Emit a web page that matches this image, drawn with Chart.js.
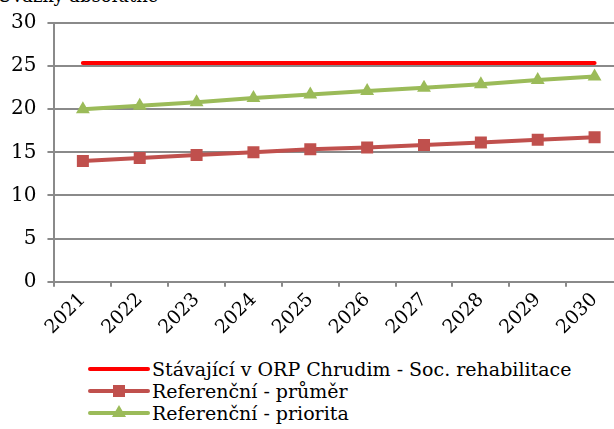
<!DOCTYPE html>
<html>
<head>
<meta charset="utf-8">
<script src="https://cdn.jsdelivr.net/npm/chart.js@4.4.1/dist/chart.umd.min.js"></script>
<style>
  html, body { margin: 0; padding: 0; background: #fff; overflow: hidden; }
  body { width: 614px; height: 429px; position: relative; }
  #wrap { position: absolute; left: 0; top: 0; width: 640px; height: 341px; }
  #title { position: absolute; left: -3px; top: -15px; font: 18px "DejaVu Serif", serif; color: #000; white-space: nowrap; }
  #legend { position: absolute; left: 88px; top: 358px; font: 19px "DejaVu Serif", serif; color: #000; }
  .item { height: 22px; line-height: 22px; display: flex; align-items: center; white-space: nowrap; }
  .sample { position: relative; width: 62px; height: 22px; margin-right: 2px; }
  .sample .ln { position: absolute; left: 0; right: 0; top: 9px; height: 4px; border-radius: 2px; }
  .sample .mk { position: absolute; left: 25px; top: 5px; width: 12px; height: 12px; }
</style>
</head>
<body>
<div id="title">Úvazky absolutně</div>
<div id="wrap"><canvas id="myChart"></canvas></div>
<div id="legend"></div>
<script>
// Kategorie (roky)
const roky = ['2021', '2022', '2023', '2024', '2025', '2026', '2027', '2028', '2029', '2030'];

// Série
const nazvy = ['Stávající v ORP Chrudim - Soc. rehabilitace', 'Referenční - průměr', 'Referenční - priorita'];
const stavajici = [25.35, 25.35, 25.35, 25.35, 25.35, 25.35, 25.35, 25.35, 25.35, 25.35];
const prumer = [14.0, 14.35, 14.7, 15.0, 15.35, 15.55, 15.85, 16.15, 16.45, 16.75];
const priorita = [20.0, 20.4, 20.8, 21.3, 21.7, 22.1, 22.5, 22.9, 23.4, 23.8];

// Osa Y
const yTicks = [0, 5, 10, 15, 20, 25, 30];

const barvy = ['#ff0000', '#c0504d', '#9bbb59'];
const znacky = [false, 'rect', 'triangle'];

const ctx = document.getElementById('myChart').getContext('2d');
const gridColor = '#8a8a8a';

const chart = new Chart(ctx, {
    type: 'line',
    data: {
        labels: roky,
        datasets: [
            {
                label: nazvy[0],
                data: stavajici,
                borderColor: barvy[0],
                backgroundColor: barvy[0],
                borderWidth: 4,
                borderCapStyle: 'round',
                pointRadius: 0
            },
            {
                label: nazvy[1],
                data: prumer,
                borderColor: barvy[1],
                backgroundColor: barvy[1],
                borderWidth: 4,
                pointStyle: 'rect',
                pointRadius: 8.5,
                pointBorderWidth: 0
            },
            {
                label: nazvy[2],
                data: priorita,
                borderColor: barvy[2],
                backgroundColor: barvy[2],
                borderWidth: 4,
                pointStyle: 'triangle',
                pointRadius: 8,
                pointBorderWidth: 0
            }
        ]
    },
    options: {
        responsive: true,
        maintainAspectRatio: false,
        animation: false,
        layout: { padding: { left: 0, right: 17, top: 18, bottom: 0 } },
        plugins: {
            legend: { display: false },
            tooltip: { enabled: false }
        },
        scales: {
            x: {
                offset: true,
                grid: {
                    offset: true,
                    drawOnChartArea: false,
                    drawTicks: true,
                    tickLength: 5,
                    color: gridColor,
                    lineWidth: 2
                },
                border: { color: gridColor, width: 2 },
                ticks: {
                    color: '#000',
                    font: { family: 'DejaVu Serif', size: 19 },
                    maxRotation: 45,
                    minRotation: 45,
                    padding: 2
                }
            },
            y: {
                min: 0,
                max: 30,
                afterBuildTicks: (axis) => { axis.ticks = yTicks.map(v => ({ value: v })); },
                grid: {
                    color: gridColor,
                    lineWidth: 2,
                    tickLength: 7
                },
                border: { color: gridColor, width: 2 },
                ticks: {
                    color: '#000',
                    font: { family: 'DejaVu Serif', size: 20 },
                    padding: 11
                }
            }
        }
    }
});

// Legenda jako HTML
const legend = document.getElementById('legend');
nazvy.forEach((nazev, i) => {
    const item = document.createElement('div');
    item.className = 'item';
    const sample = document.createElement('div');
    sample.className = 'sample';
    const ln = document.createElement('div');
    ln.className = 'ln';
    ln.style.background = barvy[i];
    sample.appendChild(ln);
    if (znacky[i] === 'rect') {
        const mk = document.createElement('div');
        mk.className = 'mk';
        mk.style.background = barvy[i];
        sample.appendChild(mk);
    } else if (znacky[i] === 'triangle') {
        const mk = document.createElement('div');
        mk.className = 'mk';
        mk.style.width = '0';
        mk.style.height = '0';
        mk.style.left = '24px';
        mk.style.top = '3px';
        mk.style.borderLeft = '7px solid transparent';
        mk.style.borderRight = '7px solid transparent';
        mk.style.borderBottom = '12px solid ' + barvy[i];
        sample.appendChild(mk);
    }
    const txt = document.createElement('span');
    txt.textContent = nazev;
    item.appendChild(sample);
    item.appendChild(txt);
    legend.appendChild(item);
});
</script>
</body>
</html>
